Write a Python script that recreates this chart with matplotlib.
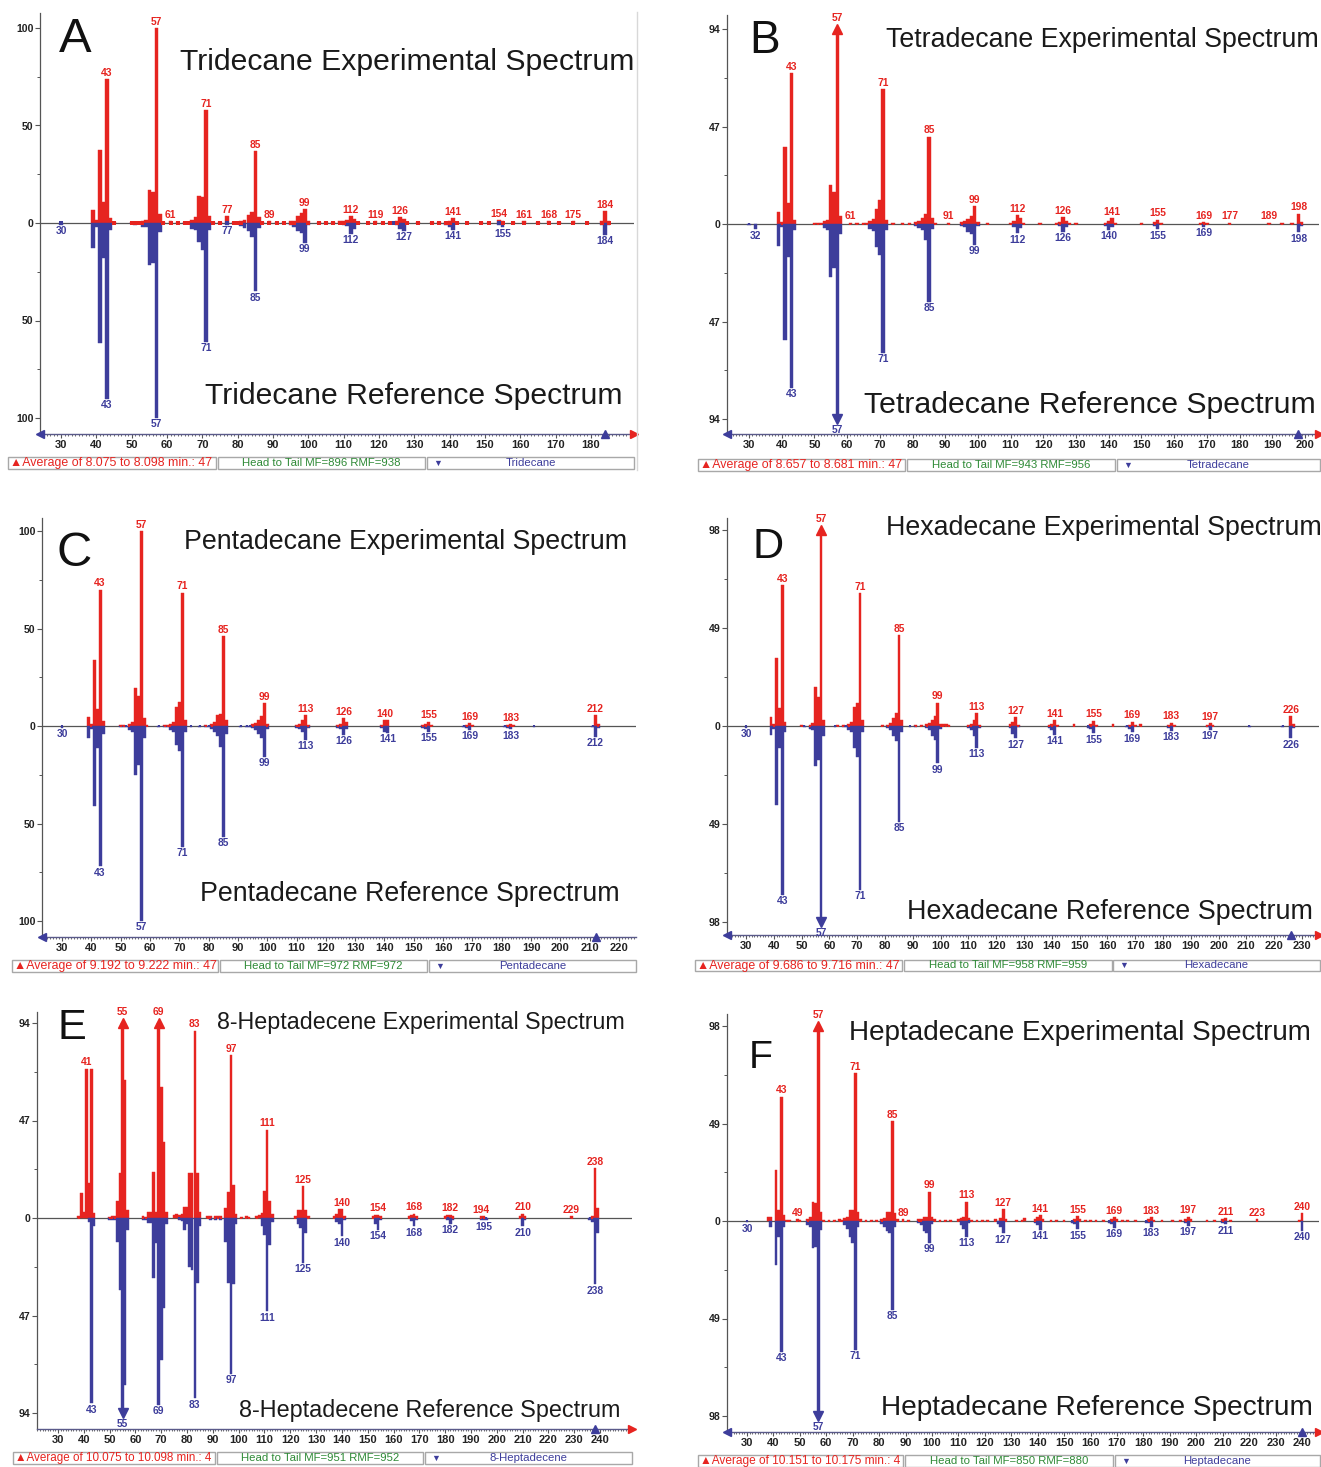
import matplotlib
matplotlib.use("Agg")
from matplotlib import pyplot as plt
from matplotlib.patches import Rectangle

W, H = 1321, 1467
RED = "#e62420"
BLUE = "#3d3d9b"
GREEN = "#2e8a36"
AXIS_GREY = "#555555"
LINE_BLUE = "#5a5a8a"
BOX_GREY = "#a8a8a8"
SMALL_FONT = ["Liberation Sans Narrow", "Liberation Sans", "DejaVu Sans"]
BAR_FONT = ["Liberation Sans", "DejaVu Sans"]
TITLE_FONT = ["Liberation Sans Narrow", "Liberation Sans", "DejaVu Sans"]

# ---------------- A: Tridecane ----------------
A_EXP_MZ = [39, 40, 41, 42, 43, 44, 45, 50, 51, 52, 53, 54, 55, 56, 57, 58, 59, 61, 63, 65, 66, 67, 68, 69, 70,
            71, 72, 73, 75, 77, 79, 80, 81, 82, 83, 84, 85, 86, 87, 89, 91, 93, 95, 96, 97, 98, 99, 100, 103,
            105, 107, 109, 110, 111, 112, 113, 114, 117, 119, 121, 123, 125, 126, 127, 128, 131, 135, 137, 139,
            140, 141, 142, 145, 149, 151, 154, 155, 158, 161, 165, 168, 171, 175, 179, 183, 184, 185]
A_EXP_INT = [6.7, 1.5, 37.4, 11, 73.7, 2.4, 0.5, 0.5, 0.6, 0.5, 1.2, 1.5, 17, 16, 100, 4.5, 0.6, 0.8, 0.5, 0.6,
             0.7, 1.5, 3, 14, 13.5, 58, 3.5, 0.6, 0.5, 3.6, 0.6, 0.5, 1.2, 1.5, 4, 5.5, 36.7, 3, 0.6, 0.8, 0.6,
             0.6, 1, 1.2, 3.5, 5, 7, 1, 0.6, 0.6, 0.6, 0.8, 0.8, 1.5, 3.4, 2.2, 0.6, 0.6, 0.8, 0.6, 0.6, 0.8, 3,
             2, 0.6, 0.6, 0.6, 0.6, 0.6, 1, 2.5, 0.6, 0.6, 0.6, 0.6, 1.5, 1.2, 0.6, 0.8, 0.6, 0.8, 0.6, 0.8, 0.6,
             0.8, 6, 1]
A_REF_MZ = [30, 39, 40, 41, 42, 43, 44, 50, 51, 52, 53, 54, 55, 56, 57, 58, 65, 66, 67, 68, 69, 70, 71, 72, 77,
            79, 81, 82, 83, 84, 85, 86, 95, 96, 97, 98, 99, 100, 110, 111, 112, 113, 124, 125, 126, 127, 139,
            140, 141, 154, 155, 183, 184, 185]
A_REF_INT = [0.8, 13, 2, 61.7, 18, 90, 3.6, 0.5, 1, 0.6, 2, 2, 21.5, 20.7, 100, 4.4, 0.6, 0.6, 3, 3.6, 9.6, 13.8,
             61, 3.6, 0.8, 0.6, 1.5, 2.5, 4, 7, 35, 2.5, 1, 2, 4, 5, 10, 1, 0.8, 1.5, 5.5, 3, 0.6, 1, 3, 4, 1, 2,
             3.4, 1, 2.2, 0.8, 6, 1]
A_EXP_LABELS = [43, 57, 61, 71, 77, 85, 89, 99, 112, 119, 126, 141, 154, 161, 168, 175, 184]
A_REF_LABELS = [30, 43, 57, 71, 77, 85, 99, 112, 127, 141, 155, 184]

# ---------------- B: Tetradecane ----------------
B_EXP_MZ = [39, 40, 41, 42, 43, 44, 50, 51, 52, 53, 54, 55, 56, 57, 58, 61, 63, 65, 66, 67, 68, 69, 70, 71, 72,
            74, 77, 79, 81, 82, 83, 84, 85, 86, 87, 91, 95, 96, 97, 98, 99, 100, 103, 110, 111, 112, 113, 114,
            119, 124, 125, 126, 127, 128, 130, 139, 140, 141, 142, 150, 154, 155, 156, 168, 169, 170, 177, 189,
            193, 196, 198, 199]
B_EXP_INT = [6, 1, 37, 10, 72.6, 2, 0.5, 0.6, 0.5, 1.5, 2, 18.8, 15.6, 100, 4, 0.7, 0.6, 0.6, 0.6, 1.5, 2.5, 7,
             11.6, 65, 2, 0.6, 0.6, 0.6, 0.8, 1.5, 3, 5, 42, 3, 0.6, 0.7, 1, 1.5, 2.5, 4, 8.7, 1, 0.6, 0.6, 1.5,
             4.3, 3, 0.6, 0.6, 0.6, 1, 3.2, 1.5, 0.6, 0.6, 0.6, 1.5, 2.7, 0.6, 0.6, 1, 2, 0.6, 0.6, 1, 0.6, 0.7,
             0.7, 0.6, 0.6, 5, 1]
B_REF_MZ = [30, 32, 39, 40, 41, 42, 43, 44, 53, 54, 55, 56, 57, 58, 67, 68, 69, 70, 71, 72, 81, 82, 83, 84, 85,
            86, 95, 96, 97, 98, 99, 100, 111, 112, 113, 125, 126, 127, 139, 140, 141, 154, 155, 169, 198, 199]
B_REF_INT = [0.6, 2.6, 10.6, 1.5, 56, 15.7, 79, 3, 2, 3, 25.4, 21.4, 100, 5, 2.5, 3.5, 11, 15, 62, 3, 1.2, 2, 3,
             7.7, 37.4, 2.5, 1, 1.5, 4, 5, 10, 1, 1.5, 4.5, 2, 1, 3.7, 1.5, 1, 2.9, 1.5, 1, 2.5, 1.3, 4, 1]
B_EXP_LABELS = [43, 57, 61, 71, 85, 91, 99, 112, 126, 141, 155, 169, 177, 189, 198]
B_REF_LABELS = [32, 43, 57, 71, 85, 99, 112, 126, 140, 155, 169, 198]

# ---------------- C: Pentadecane ----------------
C_EXP_MZ = [39, 40, 41, 42, 43, 44, 50, 51, 53, 54, 55, 56, 57, 58, 59, 65, 66, 67, 68, 69, 70, 71, 72, 79, 81,
            82, 83, 84, 85, 86, 95, 96, 97, 98, 99, 100, 110, 111, 112, 113, 114, 124, 125, 126, 127, 139, 140,
            141, 153, 154, 155, 156, 168, 169, 170, 182, 183, 184, 212, 213]
C_EXP_INT = [4.8, 1, 33.8, 8.5, 70, 2.5, 0.5, 0.6, 1, 2, 19.7, 15.4, 100, 4, 0.5, 0.5, 0.6, 1, 2, 10, 12.5, 68.4,
             3, 0.5, 0.8, 2, 5.6, 6, 46, 3, 0.8, 1.5, 3, 5, 11.6, 1, 0.6, 1, 3, 5.6, 0.6, 0.6, 1, 4, 2, 0.6, 3, 3,
             0.6, 1, 2.2, 0.6, 0.6, 1.4, 0.5, 0.6, 1, 0.5, 5.6, 1]
C_REF_MZ = [30, 39, 40, 41, 42, 43, 44, 50, 51, 52, 53, 54, 55, 56, 57, 58, 63, 65, 66, 67, 68, 69, 70, 71, 72,
            74, 77, 79, 80, 81, 82, 83, 84, 85, 86, 91, 93, 94, 95, 96, 97, 98, 99, 100, 110, 111, 112, 113, 114,
            124, 125, 126, 127, 139, 140, 141, 153, 154, 155, 167, 168, 169, 181, 182, 183, 191, 211, 212, 213]
C_REF_INT = [0.8, 6.3, 1.5, 41, 11.5, 72, 4, 0.6, 0.6, 0.6, 2, 3, 25, 20, 100, 6, 0.6, 0.6, 0.6, 2, 3, 9.7, 12.6,
             62, 3, 0.6, 0.6, 0.6, 0.6, 1.5, 3, 5, 10.6, 56.7, 4, 0.6, 0.6, 0.6, 1, 2, 4, 6, 15.7, 1.5, 0.8, 1.5,
             3, 7.2, 0.8, 0.8, 1.5, 4.6, 1.5, 1, 3, 3.4, 0.8, 1.5, 2.9, 0.6, 1, 2, 0.6, 0.8, 1.7, 0.6, 0.6, 5.5, 1]
C_EXP_LABELS = [43, 57, 71, 85, 99, 113, 126, 140, 155, 169, 183, 212]
C_REF_LABELS = [30, 43, 57, 71, 85, 99, 113, 126, 141, 155, 169, 183, 212]

# ---------------- D: Hexadecane ----------------
D_EXP_MZ = [39, 40, 41, 42, 43, 44, 50, 53, 54, 55, 56, 57, 58, 63, 65, 67, 68, 69, 70, 71, 72, 79, 81, 82, 83,
            84, 85, 86, 91, 93, 95, 96, 97, 98, 99, 100, 101, 102, 103, 110, 111, 112, 113, 114, 125, 126, 127,
            128, 139, 140, 141, 142, 148, 154, 155, 156, 162, 168, 169, 170, 172, 182, 183, 184, 196, 197, 198,
            226, 227]
D_EXP_INT = [4.7, 1, 33.8, 8.8, 70.5, 2, 0.5, 0.6, 1.5, 19.7, 14.7, 100, 3, 0.6, 0.6, 1, 2, 9.7, 11.7, 66.3, 3,
             0.6, 0.6, 1.5, 4, 6.7, 45.5, 3, 0.6, 0.6, 0.8, 1.5, 3, 5, 11.7, 1.2, 0.8, 0.8, 0.6, 0.5, 1, 3, 6.3,
             0.6, 1, 2, 4.3, 0.5, 0.6, 1, 3, 0.5, 0.8, 1, 2.7, 0.5, 0.8, 0.6, 2.2, 0.5, 0.8, 0.5, 1.7, 0.5, 0.6,
             1.3, 0.5, 5, 1]
D_REF_MZ = [30, 39, 40, 41, 42, 43, 44, 51, 53, 54, 55, 56, 57, 58, 62, 65, 66, 67, 68, 69, 70, 71, 72, 81, 82,
            83, 84, 85, 86, 89, 91, 95, 96, 97, 98, 99, 100, 110, 111, 112, 113, 114, 125, 126, 127, 128, 139,
            140, 141, 153, 154, 155, 167, 168, 169, 182, 183, 196, 197, 211, 223, 226, 227]
D_REF_INT = [0.8, 4.5, 1.5, 39.5, 11, 84.5, 3, 0.6, 1.5, 2, 20, 17, 100, 5, 0.6, 0.6, 0.6, 2, 3, 11, 15.3, 82, 3,
             1, 2, 5, 7.3, 47.8, 3, 0.6, 0.6, 1, 2, 5, 7, 18.7, 1.5, 0.8, 2, 5, 11, 1, 1, 4, 6.2, 0.5, 1, 2, 4.5,
             0.8, 1.5, 3.7, 0.6, 1.5, 3.2, 1, 2.3, 0.6, 2, 0.6, 0.6, 6.2, 1]
D_EXP_LABELS = [43, 57, 71, 85, 99, 113, 127, 141, 155, 169, 183, 197, 226]
D_REF_LABELS = [30, 43, 57, 71, 85, 99, 113, 127, 141, 155, 169, 183, 197, 226]

# ---------------- E: 8-Heptadecene ----------------
E_EXP_MZ = [38, 39, 40, 41, 42, 43, 44, 50, 51, 52, 53, 54, 55, 56, 57, 63, 64, 65, 66, 67, 68, 69, 70, 71, 72,
            75, 76, 77, 78, 79, 80, 81, 82, 83, 84, 85, 88, 89, 91, 92, 93, 95, 96, 97, 98, 99, 101, 103, 104,
            107, 108, 109, 110, 111, 112, 113, 122, 123, 124, 125, 126, 127, 137, 138, 139, 140, 141, 152, 153,
            154, 155, 166, 167, 168, 169, 180, 181, 182, 183, 194, 195, 209, 210, 211, 229, 237, 238, 239]
E_EXP_INT = [1, 11.9, 3, 72, 16.7, 72, 2.6, 0.6, 1, 1, 8, 21.5, 100, 66.5, 4, 0.8, 0.6, 3, 3, 22.3, 3, 97, 63.3,
             36.8, 3, 1.5, 1.9, 1.5, 2, 5.5, 5.5, 21.5, 21.5, 90.3, 21.5, 3, 0.8, 1, 1, 1, 1, 4.7, 12.7, 78.6, 16,
             2, 0.6, 0.8, 0.6, 1, 1.5, 2.4, 13, 42.6, 8, 2, 1, 3.7, 3.7, 15.3, 3.7, 1, 1, 2, 4.3, 4.3, 1, 1, 1.6,
             1.6, 0.8, 1, 1.5, 2, 0.8, 1, 1.5, 1.5, 0.8, 1, 0.8, 1, 2, 0.8, 1, 1, 24, 5]
E_REF_MZ = [42, 43, 44, 50, 51, 52, 53, 54, 55, 56, 57, 63, 64, 65, 66, 67, 68, 69, 70, 71, 72, 77, 78, 79, 80,
            81, 82, 83, 84, 85, 89, 91, 93, 95, 96, 97, 98, 99, 109, 110, 111, 112, 113, 123, 124, 125, 126, 138,
            139, 140, 141, 153, 154, 155, 167, 168, 169, 181, 182, 183, 194, 195, 196, 210, 211, 236, 237, 238,
            239]
E_REF_INT = [2, 89.3, 4, 1, 1, 1, 11.4, 34.7, 100, 80.5, 5.8, 1, 1, 2.5, 2.5, 29, 12, 90, 68.5, 43.5, 3, 1, 1.5,
             5.8, 3, 23.5, 25, 87, 31.5, 4, 1, 1, 1, 11.4, 31.5, 75, 32, 3, 4, 8, 45, 13, 2, 3, 5, 21.7, 7, 2, 3,
             8.8, 1, 3, 5.6, 1, 1.5, 4, 1, 1, 2.7, 0.8, 1, 1.2, 0.8, 4, 1, 1, 2, 32, 7]
E_EXP_LABELS = [41, 55, 69, 83, 97, 111, 125, 140, 154, 168, 182, 194, 210, 229, 238]
E_REF_LABELS = [43, 55, 69, 83, 97, 111, 125, 140, 154, 168, 182, 195, 210, 238]

# ---------------- F: Heptadecane ----------------
F_EXP_MZ = [38, 39, 41, 42, 43, 44, 45, 46, 49, 50, 53, 54, 55, 56, 57, 58, 59, 61, 63, 65, 66, 67, 68, 69, 70,
            71, 72, 73, 75, 77, 79, 81, 82, 83, 84, 85, 86, 87, 89, 91, 95, 96, 97, 98, 99, 100, 101, 103, 105,
            107, 110, 111, 112, 113, 114, 115, 117, 119, 121, 124, 126, 127, 128, 132, 134, 135, 139, 140, 141,
            142, 145, 147, 150, 154, 155, 156, 158, 160, 162, 165, 168, 169, 170, 172, 174, 177, 182, 183, 184,
            187, 191, 194, 196, 197, 198, 204, 207, 210, 211, 213, 223, 239, 240]
F_EXP_INT = [2, 2, 25.6, 5.5, 62.5, 3, 0.6, 0.6, 0.8, 0.6, 1, 2, 9.7, 8.9, 100, 4.7, 0.6, 0.6, 0.6, 0.8, 0.6, 1.5,
             2, 5.5, 5.5, 74.2, 4.7, 0.8, 0.6, 0.6, 0.6, 0.8, 1.5, 4.7, 4.7, 50.3, 3.9, 0.8, 0.8, 0.6, 0.8, 1, 2,
             2, 14.7, 2, 0.8, 0.6, 0.6, 0.6, 0.8, 1.5, 2, 9.7, 1.5, 0.6, 0.6, 0.6, 0.6, 0.8, 1.5, 5.9, 1, 0.6, 0.6,
             1.5, 0.8, 2, 3, 1, 0.6, 0.6, 0.6, 1, 2.5, 1, 0.6, 0.6, 0.6, 0.6, 1, 1.8, 1, 0.6, 0.6, 0.6, 1, 1.8,
             0.6, 0.6, 0.6, 0.6, 1, 2.2, 0.8, 0.6, 0.6, 1, 1.3, 0.6, 0.8, 0.6, 3.9]
F_REF_MZ = [30, 39, 41, 42, 43, 44, 53, 54, 55, 56, 57, 58, 67, 68, 69, 70, 71, 72, 81, 82, 83, 84, 85, 86, 95,
            96, 97, 98, 99, 100, 111, 112, 113, 114, 125, 126, 127, 139, 140, 141, 153, 154, 155, 167, 168, 169,
            181, 182, 183, 196, 197, 210, 211, 240]
F_REF_INT = [0.6, 2.8, 22, 7.9, 65.7, 2.8, 2, 3, 13.7, 12.9, 100, 4.5, 2, 4, 7.9, 11, 64.8, 2.8, 1.5, 3, 5, 6,
             44.7, 2.8, 1, 2, 5, 6, 11, 1.5, 2, 4, 7.9, 1, 1.5, 3, 6.2, 1, 2, 4.5, 1, 1.5, 4.2, 1, 1.5, 3.4, 1,
             1.2, 2.8, 1, 2.5, 1, 1.7, 4.9]
F_EXP_LABELS = [43, 49, 57, 71, 85, 89, 99, 113, 127, 141, 155, 169, 183, 197, 211, 223, 240]
F_REF_LABELS = [30, 43, 57, 71, 85, 99, 113, 127, 141, 155, 169, 183, 197, 211, 240]

PANEL_LETTERS = ["A", "B", "C", "D", "E", "F"]
EXP_TITLES = ["Tridecane Experimental Spectrum", "Tetradecane Experimental Spectrum",
              "Pentadecane Experimental Spectrum", "Hexadecane Experimental Spectrum",
              "8-Heptadecene Experimental Spectrum", "Heptadecane Experimental Spectrum"]
REF_TITLES = ["Tridecane Reference Spectrum", "Tetradecane Reference Spectrum",
              "Pentadecane Reference Sprectrum", "Hexadecane Reference Spectrum",
              "8-Heptadecene Reference Spectrum", "Heptadecane Reference Spectrum"]
RANGE_TEXTS = ["Average of 8.075 to 8.098 min.: 47", "Average of 8.657 to 8.681 min.: 47",
               "Average of 9.192 to 9.222 min.: 47", "Average of 9.686 to 9.716 min.: 47",
               "Average of 10.075 to 10.098 min.: 4", "Average of 10.151 to 10.175 min.: 4"]
MATCH_TEXTS = ["Head to Tail MF=896 RMF=938", "Head to Tail MF=943 RMF=956",
               "Head to Tail MF=972 RMF=972", "Head to Tail MF=958 RMF=959",
               "Head to Tail MF=951 RMF=952", "Head to Tail MF=850 RMF=880"]
COMPOUNDS = ["Tridecane", "Tetradecane", "Pentadecane", "Hexadecane", "8-Heptadecene", "Heptadecane"]
Y_MAX = [100, 94, 100, 98, 94, 98]
X_LAST_TICK = [180, 200, 220, 230, 240, 240]

SPECTRA = [
    (A_EXP_MZ, A_EXP_INT, A_REF_MZ, A_REF_INT, A_EXP_LABELS, A_REF_LABELS),
    (B_EXP_MZ, B_EXP_INT, B_REF_MZ, B_REF_INT, B_EXP_LABELS, B_REF_LABELS),
    (C_EXP_MZ, C_EXP_INT, C_REF_MZ, C_REF_INT, C_EXP_LABELS, C_REF_LABELS),
    (D_EXP_MZ, D_EXP_INT, D_REF_MZ, D_REF_INT, D_EXP_LABELS, D_REF_LABELS),
    (E_EXP_MZ, E_EXP_INT, E_REF_MZ, E_REF_INT, E_EXP_LABELS, E_REF_LABELS),
    (F_EXP_MZ, F_EXP_INT, F_REF_MZ, F_REF_INT, F_EXP_LABELS, F_REF_LABELS),
]

# pixel layout of each panel (plot box, tick calibration, titles, status bar)
LAYOUT = [
    dict(left=40, right=634, top=13, bottom=434, xcal=(61, 591), y0=223, ytop=28,
         exp_title=(180, 634, 62), ref_title=(205, 622, 396), letter=(75, 40, 35),
         boxes=((8, 216), (218, 425), (427, 634)), bar_y=(457, 469), left_arrow=True, right_arrow=True),
    dict(left=727, right=1319, top=15, bottom=434, xcal=(749, 1305), y0=224, ytop=29,
         exp_title=(886, 1317, 40), ref_title=(864, 1314, 405), letter=(765, 41, 33),
         boxes=((698, 905), (907, 1115), (1117, 1320)), bar_y=(459, 471), left_arrow=True, right_arrow=True),
    dict(left=42, right=636, top=518, bottom=937, xcal=(62, 619), y0=726, ytop=531,
         exp_title=(184, 626, 542), ref_title=(200, 618, 894), letter=(74, 554, 35),
         boxes=((12, 218), (220, 427), (429, 636)), bar_y=(960, 972), left_arrow=True, right_arrow=False),
    dict(left=727, right=1319, top=518, bottom=935, xcal=(746, 1302), y0=726, ytop=530,
         exp_title=(886, 1320, 528), ref_title=(907, 1310, 912), letter=(768, 547, 31),
         boxes=((695, 902), (904, 1112), (1113, 1320)), bar_y=(960, 971), left_arrow=True, right_arrow=True),
    dict(left=37, right=632, top=1012, bottom=1429, xcal=(58, 600), y0=1218, ytop=1023,
         exp_title=(217, 623, 1023), ref_title=(239, 618, 1410), letter=(72, 1028, 31),
         boxes=((13, 215), (217, 423), (425, 632)), bar_y=(1452, 1464), left_arrow=False, right_arrow=True),
    dict(left=727, right=1319, top=1014, bottom=1432, xcal=(747, 1302), y0=1221, ytop=1026,
         exp_title=(849, 1312, 1033), ref_title=(881, 1310, 1408), letter=(761, 1058, 28),
         boxes=((698, 903), (905, 1113), (1115, 1320)), bar_y=(1455, 1467), left_arrow=True, right_arrow=True),
]

fig = plt.figure(figsize=(W / 100, H / 100), dpi=100)
renderer = fig.canvas.get_renderer()


def px_axes(left, top, right, bottom):
    return fig.add_axes([left / W, 1 - bottom / H, (right - left) / W, (bottom - top) / H])


def draw_spectrum(ax, lay, ymax, last_tick, exp_mz, exp_int, ref_mz, ref_int, exp_labels, ref_labels):
    x0p, x1p = lay["xcal"]
    per_px = (last_tick - 30) / (x1p - x0p)
    xlim = (30 + (lay["left"] - x0p) * per_px, 30 + (lay["right"] - x0p) * per_px)
    u = ymax / (lay["y0"] - lay["ytop"])
    ylim = (-(lay["bottom"] - lay["y0"]) * u, (lay["y0"] - lay["top"]) * u)
    ax.set_xlim(*xlim)
    ax.set_ylim(*ylim)
    ax.patch.set_alpha(0)

    # one bar per m/z, one mass unit wide so neighbouring masses merge into blocks
    bar_w = min(1.0, 3.8 * per_px)
    ax.axhline(0, color=AXIS_GREY, lw=0.9, zorder=1)
    ax.bar(exp_mz, [min(v, ymax) for v in exp_int], width=bar_w, color=RED, ec=RED, lw=0.3, zorder=2)
    ax.bar(ref_mz, [-min(v, ymax) for v in ref_int], width=bar_w, color=BLUE, ec=BLUE, lw=0.3, zorder=2)

    # very small peaks show up as dots sitting on the baseline
    dot_ms = bar_w / per_px * 0.72 * 0.9
    ref_small = [m for m, v in zip(ref_mz, ref_int) if v < 1.3]
    exp_small = [m for m, v in zip(exp_mz, exp_int) if v < 1.3]
    ax.plot(ref_small, [0] * len(ref_small), "s", ms=dot_ms, color=BLUE, mew=0, zorder=3)
    ax.plot(exp_small, [0] * len(exp_small), "s", ms=dot_ms, color=RED, mew=0, zorder=3)

    exp_lookup = dict(zip(exp_mz, exp_int))
    ref_lookup = dict(zip(ref_mz, ref_int))
    for mz, v in exp_lookup.items():
        if v > ymax:
            ax.plot(mz, ymax, marker="^", ms=7.5, color=RED, zorder=4, clip_on=False)
    for mz, v in ref_lookup.items():
        if v > ymax:
            ax.plot(mz, -ymax, marker="v", ms=7.5, color=BLUE, zorder=4, clip_on=False)

    label_kw = dict(textcoords="offset points", ha="center", fontsize=7.4, family=SMALL_FONT,
                    fontweight="bold", zorder=5, annotation_clip=False)
    for mz in exp_labels:
        v = exp_lookup.get(mz, 0)
        off = 4.5 if v > ymax else 1
        ax.annotate(str(mz), (mz, min(v, ymax)), xytext=(0, off), va="bottom", color=RED, **label_kw)
    for mz in ref_labels:
        v = ref_lookup.get(mz, 0)
        off = 4.5 if v > ymax else 1
        ax.annotate(str(mz), (mz, -min(v, ymax)), xytext=(0, -off), va="top", color=BLUE, **label_kw)

    half = ymax // 2
    ax.set_yticks([-ymax, -half, 0, half, ymax])
    ax.set_yticklabels([str(ymax), str(half), "0", str(half), str(ymax)])
    ax.set_yticks([-ymax * 0.75, -ymax * 0.25, ymax * 0.25, ymax * 0.75], minor=True)
    ax.set_xticks(list(range(30, last_tick + 1, 10)))
    ax.set_xticks([m for m in range(int(xlim[0]) + 1, int(xlim[1]) + 1)], minor=True)

    ax.tick_params(axis="y", which="major", direction="out", length=3.5, width=0.8, color=AXIS_GREY,
                   labelsize=7.6, pad=1)
    ax.tick_params(axis="y", which="minor", direction="out", length=2, width=0.7, color=AXIS_GREY)
    ax.tick_params(axis="x", which="major", direction="out", length=3, width=0.8, color=AXIS_GREY,
                   labelsize=8, pad=1.5)
    ax.tick_params(axis="x", which="minor", direction="out", length=1.6, width=0.6, color=AXIS_GREY)
    for lab in ax.get_xticklabels() + ax.get_yticklabels():
        lab.set_family(SMALL_FONT)
        lab.set_fontweight("bold")
        lab.set_color("#222222")

    for side in ("top", "right"):
        ax.spines[side].set_visible(False)
    ax.spines["left"].set_color(AXIS_GREY)
    ax.spines["left"].set_linewidth(0.9)
    ax.spines["bottom"].set_color(LINE_BLUE)
    ax.spines["bottom"].set_linewidth(1.0)

    if lay["left_arrow"]:
        ax.plot(xlim[0], ylim[0], marker="<", ms=6, color=BLUE, clip_on=False, zorder=6)
    if lay["right_arrow"]:
        ax.plot(xlim[1], ylim[0], marker=">", ms=6, color=RED, clip_on=False, zorder=6)
    ax.plot(ref_labels[-1], ylim[0], marker="^", ms=6, color=BLUE, clip_on=False, zorder=6)


def fit_text(ax, text, left, right, cy, **kw):
    t = ax.text(left, cy, text, ha="left", va="center", fontsize=20, **kw)
    w = t.get_window_extent(renderer).width
    t.set_fontsize(20 * (right - left) / w)
    return t


for i, lay in enumerate(LAYOUT):
    ax = px_axes(lay["left"], lay["top"], lay["right"], lay["bottom"])
    draw_spectrum(ax, lay, Y_MAX[i], X_LAST_TICK[i], *SPECTRA[i])

overlay = fig.add_axes([0, 0, 1, 1])
overlay.set_xlim(0, W)
overlay.set_ylim(H, 0)
overlay.axis("off")

for i, lay in enumerate(LAYOUT):
    fit_text(overlay, EXP_TITLES[i], *lay["exp_title"], color="#1a1a1a", family=TITLE_FONT)
    fit_text(overlay, REF_TITLES[i], *lay["ref_title"], color="#1a1a1a", family=TITLE_FONT)
    lx, ly, lh = lay["letter"]
    overlay.text(lx, ly, PANEL_LETTERS[i], ha="center", va="center", fontsize=lh / 0.716 * 0.72,
                 color="#111111", family=TITLE_FONT)

    y0, y1 = lay["bar_y"]
    cy = (y0 + y1) / 2
    for bx0, bx1 in lay["boxes"]:
        overlay.add_patch(Rectangle((bx0, y0), bx1 - bx0, y1 - y0, fill=False, ec=BOX_GREY, lw=1))
    (b1a, b1b), (b2a, b2b), (b3a, b3b) = lay["boxes"]
    fit_text(overlay, "\u25b2" + RANGE_TEXTS[i], b1a + 2, b1b - 3, cy, color=RED, family=BAR_FONT)
    overlay.text((b2a + b2b) / 2, cy, MATCH_TEXTS[i], ha="center", va="center", fontsize=8.2,
                 color=GREEN, family=BAR_FONT)
    overlay.text(b3a + 6, cy, "\u25bc", ha="left", va="center", fontsize=6.5, color=BLUE, family=BAR_FONT)
    overlay.text((b3a + b3b) / 2, cy, COMPOUNDS[i], ha="center", va="center", fontsize=8.2,
                 color=BLUE, family=BAR_FONT)

overlay.plot([637, 637], [12, 470], color="#d8d8d8", lw=1)

fig.savefig("out.png", dpi=100)
